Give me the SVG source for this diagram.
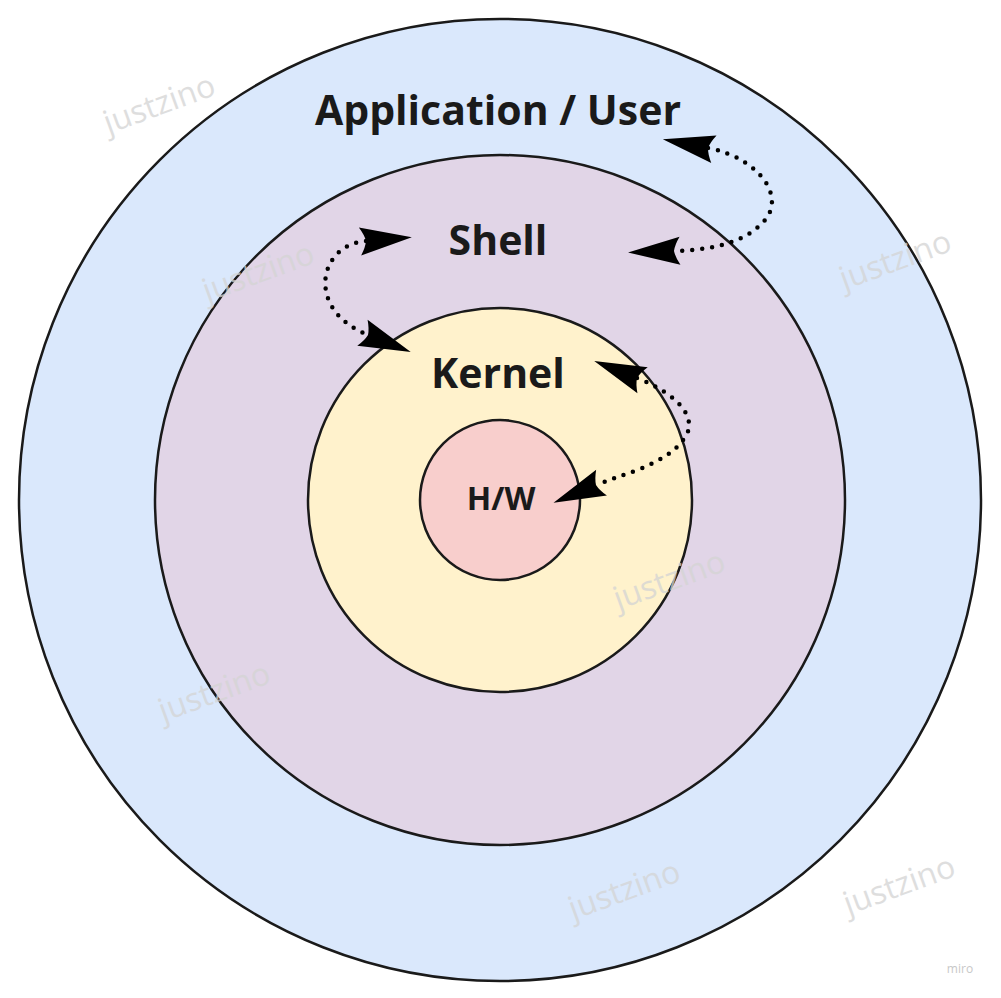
<svg xmlns="http://www.w3.org/2000/svg" width="1001" height="998" viewBox="0 0 1001 998">
<defs>
<style>
.ring{stroke:#1a1a1a;stroke-width:2.5}
.lbl{font-family:"Open Sans","Liberation Sans",sans-serif;font-weight:bold;fill:#1a1a1a;text-anchor:middle}
.wm{font-family:"Open Sans","Liberation Sans",sans-serif;font-size:32px;fill:#d4d4d4;opacity:0.75;text-anchor:middle}
.dot{fill:none;stroke:#000;stroke-width:4.5;stroke-linecap:round;stroke-dasharray:0 10}
</style>
<marker id="ah" viewBox="-2 -16 56 32" markerWidth="56" markerHeight="32" refX="6" refY="0" orient="auto-start-reverse" markerUnits="userSpaceOnUse">
<path d="M52,0 L0,-14 Q5,-6 6,0 Q5,6 0,14 Z" fill="#000"/>
</marker>
</defs>
<rect width="1001" height="998" fill="#ffffff"/>
<g id="app"><circle class="ring" cx="500" cy="500" r="481" fill="#dae8fc"/></g>
<g id="shell"><circle class="ring" cx="500" cy="500" r="345" fill="#e1d5e7"/></g>
<g id="kernel"><circle class="ring" cx="500" cy="500" r="192" fill="#fff2cc"/></g>
<g id="hw"><circle class="ring" cx="500" cy="500" r="80" fill="#f8cecc"/></g>
<g id="labels">
<text class="lbl" x="498" y="125" font-size="41">Application / User</text>
<text class="lbl" x="498" y="255" font-size="41">Shell</text>
<text class="lbl" x="498" y="388" font-size="41">Kernel</text>
<text class="lbl" x="501" y="510" font-size="32">H/W</text>
</g>
<g id="connectors">
<path class="dot" d="M708,148 C760,158 790,200 760,225 C740,245 705,250 674,251" marker-start="url(#ah)" marker-end="url(#ah)"/>
<path class="dot" d="M366,241 C318,245 305,310 368,335" marker-start="url(#ah)" marker-end="url(#ah)"/>
<path class="dot" d="M637,378 C680,395 700,420 683,440 C665,465 620,475 596,485" marker-start="url(#ah)" marker-end="url(#ah)"/>
</g>
<g id="watermarks">
<text class="wm" transform="translate(163,114) rotate(-20)">justzino</text>
<text class="wm" transform="translate(262,282) rotate(-20)">justzino</text>
<text class="wm" transform="translate(899,270) rotate(-20)">justzino</text>
<text class="wm" transform="translate(673,590) rotate(-20)">justzino</text>
<text class="wm" transform="translate(218,702) rotate(-20)">justzino</text>
<text class="wm" transform="translate(628,900) rotate(-20)">justzino</text>
<text class="wm" transform="translate(903,895) rotate(-20)">justzino</text>
</g>
<text x="960" y="973" font-family="Open Sans,Liberation Sans,sans-serif" font-size="12" fill="#c8c8c8" text-anchor="middle">miro</text>
</svg>
